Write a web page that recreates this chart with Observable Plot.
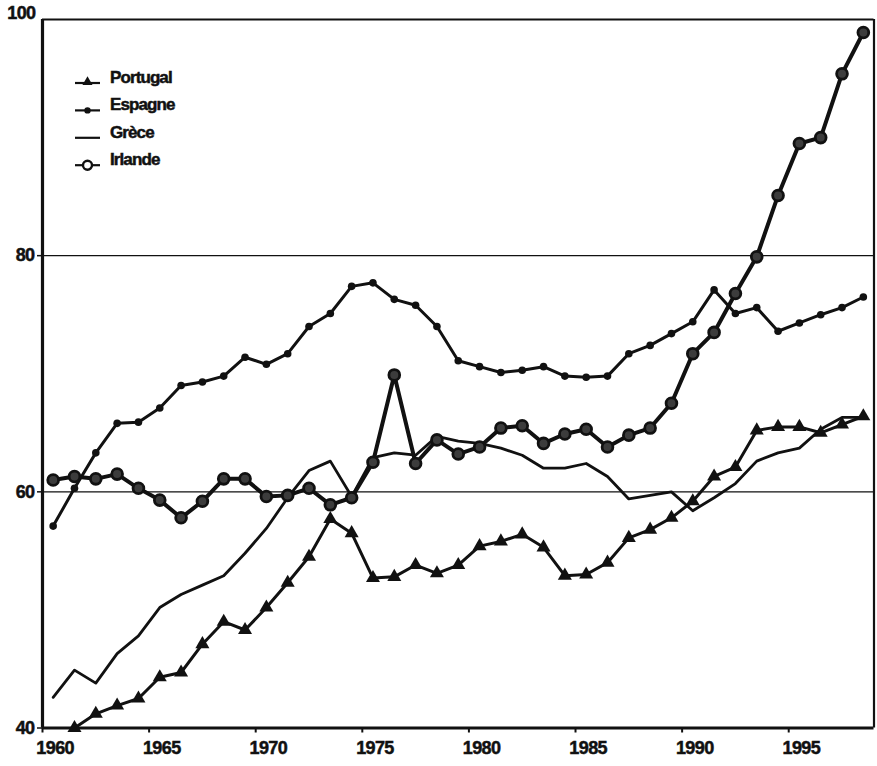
<!DOCTYPE html>
<html>
<head>
<meta charset="utf-8">
<script src="https://cdn.jsdelivr.net/npm/d3@7"></script>
<script src="https://cdn.jsdelivr.net/npm/@observablehq/plot@0.6"></script>
<style>
  html, body { margin: 0; padding: 0; background: #fff; }
  #wrap { position: relative; width: 877px; height: 766px; }
  #legend { position: absolute; left: 0; top: 0; pointer-events: none; }
</style>
</head>
<body>
<div id="wrap"></div>
<script>
// Categories
const years = [1960,1961,1962,1963,1964,1965,1966,1967,1968,1969,
               1970,1971,1972,1973,1974,1975,1976,1977,1978,1979,
               1980,1981,1982,1983,1984,1985,1986,1987,1988,1989,
               1990,1991,1992,1993,1994,1995,1996,1997,1998];

// Series values
const portugal = [null, 40.0, 41.2, 41.9, 42.5, 44.3, 44.7, 47.1, 49.0, 48.3,
                  50.2, 52.3, 54.5, 57.7, 56.5, 52.7, 52.8, 53.8, 53.1, 53.8,
                  55.4, 55.8, 56.4, 55.3, 52.9, 53.0, 54.0, 56.1, 56.8, 57.8,
                  59.2, 61.3, 62.1, 65.2, 65.5, 65.5, 65.0, 65.7, 66.4];
const espagne  = [57.1, 60.3, 63.3, 65.8, 65.9, 67.1, 69.0, 69.3, 69.8, 71.4,
                  70.8, 71.7, 74.0, 75.1, 77.4, 77.7, 76.3, 75.8, 74.0, 71.1,
                  70.6, 70.1, 70.3, 70.6, 69.8, 69.7, 69.8, 71.7, 72.4, 73.4,
                  74.4, 77.1, 75.1, 75.6, 73.6, 74.3, 75.0, 75.6, 76.5];
const grece    = [42.6, 44.9, 43.8, 46.3, 47.8, 50.2, 51.3, 52.1, 52.9, 54.8,
                  56.9, 59.5, 61.8, 62.6, 59.6, 62.9, 63.3, 63.1, 64.7, 64.3,
                  64.1, 63.7, 63.1, 62.0, 62.0, 62.4, 61.3, 59.4, 59.7, 60.0,
                  58.4, 59.5, 60.7, 62.6, 63.3, 63.7, 65.3, 66.3, 66.3];
const irlande  = [61.0, 61.3, 61.1, 61.5, 60.3, 59.3, 57.8, 59.2, 61.1, 61.1,
                  59.6, 59.7, 60.3, 58.9, 59.5, 62.5, 69.9, 62.4, 64.4, 63.2,
                  63.8, 65.4, 65.6, 64.1, 64.9, 65.3, 63.8, 64.8, 65.4, 67.5,
                  71.7, 73.5, 76.8, 79.9, 85.1, 89.5, 90.0, 95.4, 98.9];

// Legend labels
const seriesNames = ["Portugal", "Espagne", "Grèce", "Irlande"];

// Axis tick labels
const yTickLabels = [40, 60, 80];
const yTopLabel = [100];
const xLabelYears = [1960, 1965, 1970, 1975, 1980, 1985, 1990, 1995];
const gridValues = [60, 80];

const rows = (name, vals) => years
  .map((y, i) => ({year: y, value: vals[i], country: name}))
  .filter(d => d.value != null);

const dPor = rows("Portugal", portugal);
const dEsp = rows("Espagne", espagne);
const dGre = rows("Grèce", grece);
const dIrl = rows("Irlande", irlande);

// category boundaries (Excel-style ticks between categories)
const xFirst = years[0] - 0.5, xLast = years[years.length - 1] + 0.5;
const xTickEdges = xLabelYears.map(y => y - 0.5);

const ink = "#111";
const fontFamily = "'Liberation Sans', Arial, sans-serif";

const chart = Plot.plot({
  width: 877,
  height: 766,
  marginLeft: 42,
  marginRight: 3.5,
  marginTop: 19,
  marginBottom: 38.5,
  x: {domain: [xFirst, xLast], axis: null, label: null},
  y: {domain: [40, 100], axis: null, label: null},
  style: {background: "#fff", color: ink, fontFamily},
  marks: [
    Plot.ruleY(gridValues, {stroke: ink, strokeWidth: 1.2}),
    Plot.ruleY([100], {stroke: ink, strokeWidth: 2.2}),
    Plot.ruleX([xLast], {stroke: ink, strokeWidth: 2.2}),
    Plot.axisY(yTickLabels, {label: null, tickSize: 5, tickPadding: 3, strokeWidth: 1.5, fontSize: 18, tickFormat: d => String(d)}),
    Plot.axisY(yTopLabel, {label: null, tickSize: 0, tickPadding: 7, dy: -6, fontSize: 18, tickFormat: d => String(d)}),
    Plot.axisX(xTickEdges, {label: null, tickSize: 5, strokeWidth: 2, tickFormat: () => ""}),
    Plot.axisX(xLabelYears, {label: null, tickSize: 0, tickPadding: 13, dx: 2, fontSize: 18, tickFormat: d => String(d)}),
    Plot.ruleX([xFirst], {stroke: ink, strokeWidth: 3.2}),
    Plot.ruleY([40], {stroke: ink, strokeWidth: 3}),

    Plot.line(dGre, {x: "year", y: "value", stroke: ink, strokeWidth: 2.8}),
    Plot.line(dEsp, {x: "year", y: "value", stroke: ink, strokeWidth: 3}),
    Plot.dot(dEsp, {x: "year", y: "value", r: 3.8, fill: ink}),
    Plot.line(dPor, {x: "year", y: "value", stroke: ink, strokeWidth: 3}),
    Plot.dot(dPor, {x: "year", y: "value", symbol: "triangle", r: 5.2, fill: ink}),
    Plot.line(dIrl, {x: "year", y: "value", stroke: ink, strokeWidth: 4}),
    Plot.dot(dIrl, {x: "year", y: "value", r: 5.4, fill: "#3c3c3c", stroke: ink, strokeWidth: 2.8})
  ]
});

const wrap = document.getElementById("wrap");
wrap.appendChild(chart);

// heavy, tight axis lettering like the scanned original
d3.select(chart).selectAll("text")
  .style("font-family", fontFamily)
  .style("font-weight", "bold")
  .style("font-size", "18px")
  .style("letter-spacing", "-0.6px")
  .style("fill", ink)
  .style("stroke", ink)
  .style("stroke-width", "0.5px");

// Legend inside the plot area (top-left), drawn as an overlay
const legend = d3.select(wrap).append("svg")
  .attr("id", "legend").attr("width", 877).attr("height", 766);
const legendLeft = 75, legendTop = 83, rowGap = 27.4, sampleLen = 25, textGap = 10;
const markerKind = ["triangle", "dot", "none", "ring"];
seriesNames.forEach((name, i) => {
  const g = legend.append("g").attr("transform", `translate(${legendLeft},${legendTop + i * rowGap})`);
  g.append("line").attr("x1", 0).attr("x2", sampleLen).attr("y1", 0).attr("y2", 0)
    .attr("stroke", ink).attr("stroke-width", 2.2);
  const cx = sampleLen / 2;
  if (markerKind[i] === "triangle") {
    g.append("path").attr("d", d3.symbol(d3.symbolTriangle, 44)()).attr("transform", `translate(${cx},-1)`).attr("fill", ink);
  } else if (markerKind[i] === "dot") {
    g.append("circle").attr("cx", cx).attr("cy", 0).attr("r", 3.2).attr("fill", ink);
  } else if (markerKind[i] === "ring") {
    g.append("circle").attr("cx", cx).attr("cy", 0).attr("r", 4.5).attr("fill", "#fff").attr("stroke", ink).attr("stroke-width", 2.4);
  }
  g.append("text").attr("x", sampleLen + textGap).attr("y", 0).text(name)
    .style("font-family", fontFamily)
    .style("font-weight", "bold")
    .style("font-size", "17px")
    .style("letter-spacing", "-0.9px")
    .style("fill", ink)
    .style("stroke", ink)
    .style("stroke-width", "0.5px");
});
</script>
</body>
</html>
